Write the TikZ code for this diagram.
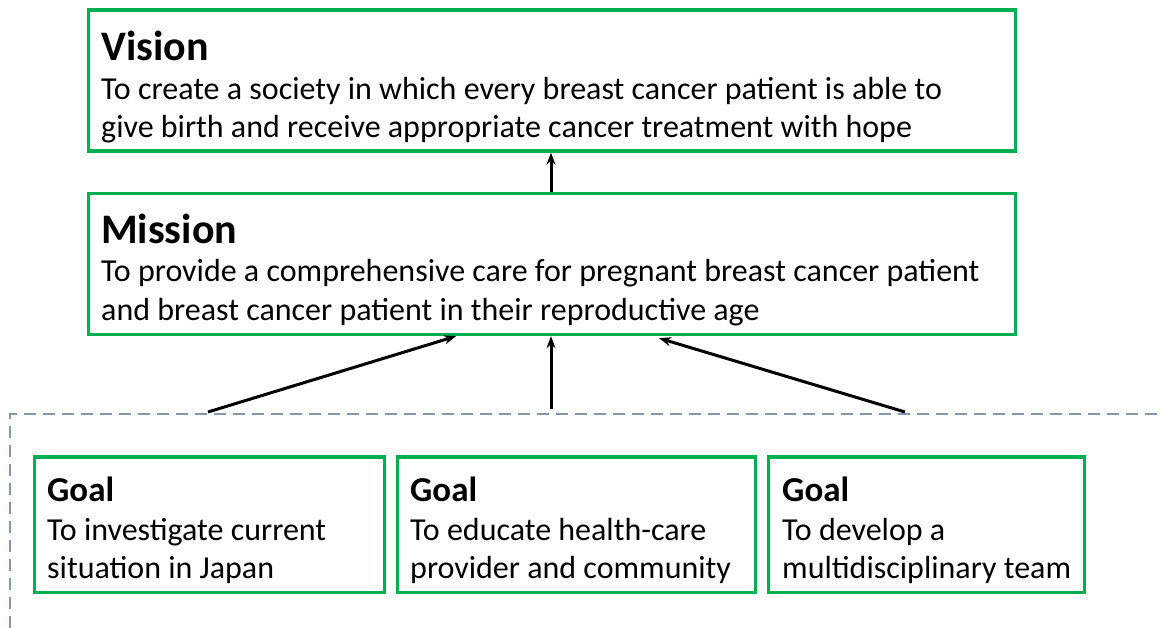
\documentclass[tikz,border=0pt]{standalone}
\usepackage{fontspec}
\setmainfont{Carlito}
\usetikzlibrary{arrows.meta}
\definecolor{boxgreen}{RGB}{0,176,80}
\definecolor{dashgray}{RGB}{132,151,176}
\tikzset{
  gbox/.style={draw=boxgreen, line width=3.2pt, inner sep=0pt, fill=white},
  ttl/.style={anchor=base west, inner sep=0pt, font=\fontsize{42}{48}\selectfont\bfseries},
  gttl/.style={anchor=base west, inner sep=0pt, font=\fontsize{35}{40}\selectfont\bfseries},
  body/.style={anchor=base west, inner sep=0pt, font=\fontsize{32}{39}\selectfont},
  arr/.style={-{Stealth[length=12pt,width=9pt]}, line width=3pt, black},
  grp/.style={draw=dashgray, line width=2.8pt, dash pattern=on 12pt off 7pt}
}
\begin{document}
\begin{tikzpicture}[x=1pt,y=-1pt]
\useasboundingbox (0,0) rectangle (1163,628);
% dashed group frame (open at right and bottom)
\draw[grp] (10,628) |- (1163,414);
% boxes
\node[gbox, minimum width=927pt, minimum height=141pt, anchor=north west] (vision) at (87,8.5) {};
\node[gbox, minimum width=927pt, minimum height=141pt, anchor=north west] (mission) at (87,192) {};
\node[gbox, minimum width=350pt, minimum height=135pt, anchor=north west] (goal1) at (33,455.5) {};
\node[gbox, minimum width=358pt, minimum height=135pt, anchor=north west] (goal2) at (396,455.5) {};
\node[gbox, minimum width=316pt, minimum height=135pt, anchor=north west] (goal3) at (767,455.5) {};
% texts
\node[ttl] (vt) at (101,61) {Vision};
\node[body] (vb1) at (101,100) {To create a society in which every breast cancer patient is able to};
\node[body] (vb2) at (101,138) {give birth and receive appropriate cancer treatment with hope};
\node[ttl] (mt) at (101,244) {Mission};
\node[body] (mb1) at (101,282) {To provide a comprehensive care for pregnant breast cancer patient};
\node[body] (mb2) at (101,321) {and breast cancer patient in their reproductive age};
\node[gttl] (g1t) at (47,501) {Goal};
\node[body] (g1a) at (47,540) {To investigate current};
\node[body] (g1b) at (47,578) {situation in Japan};
\node[gttl] (g2t) at (410,501) {Goal};
\node[body] (g2a) at (410,540) {To educate health-care};
\node[body] (g2b) at (410,578) {provider and community};
\node[gttl] (g3t) at (782,501) {Goal};
\node[body] (g3a) at (782,540) {To develop a};
\node[body] (g3b) at (782,578) {multidisciplinary team};
% connector endpoints on the dashed frame
\coordinate (s1) at (208,412);
\coordinate (s2) at (551,409);
\coordinate (s3) at (905,412);
% arrows
\draw[arr] (mission.north -| 551,0) -- (vision.south -| 551,0);
\draw[arr] (s1) -- ([xshift=-96pt]mission.south);
\draw[arr] (s2) -- (mission.south -| s2);
\draw[arr] (s3) -- ([xshift=107pt,yshift=-2pt]mission.south);
\end{tikzpicture}
\end{document}
